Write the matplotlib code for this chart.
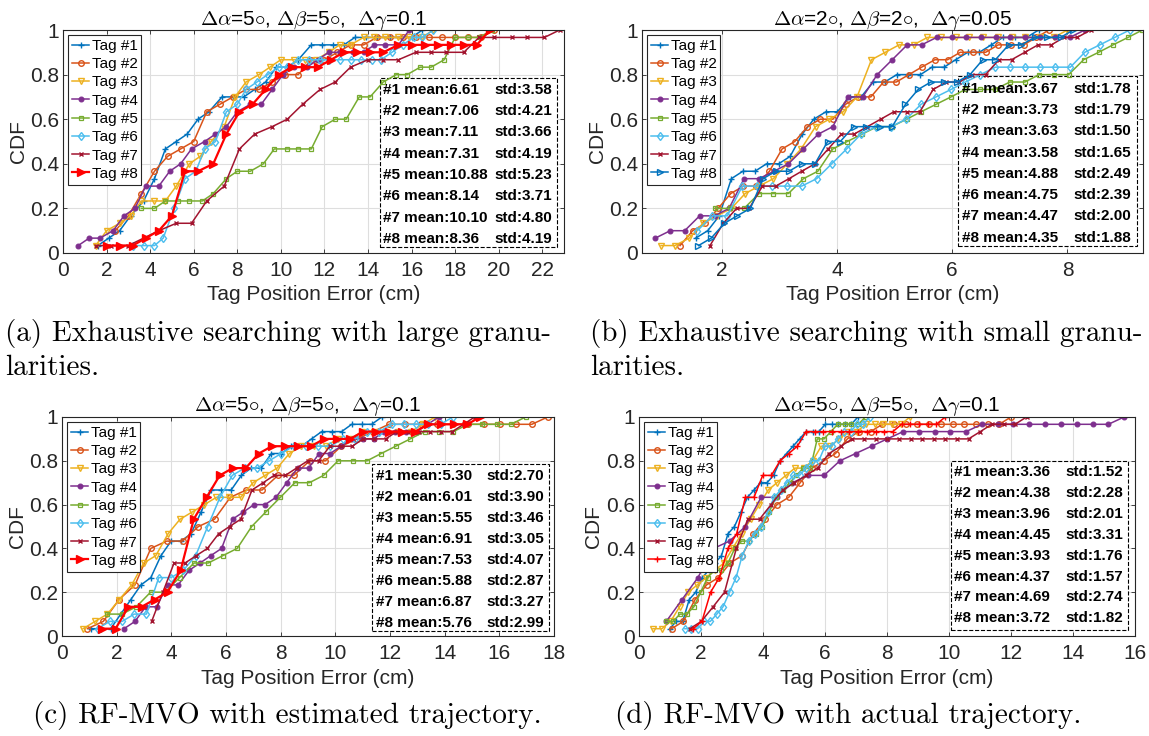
import matplotlib
matplotlib.use('Agg')
import matplotlib.pyplot as plt
from matplotlib.patches import Rectangle

plt.rcParams['font.family'] = ['Liberation Sans', 'DejaVu Sans']
plt.rcParams['mathtext.fontset'] = 'cm'

N = 30  # samples per tag, CDF step = 1/30
tags = ['Tag #1', 'Tag #2', 'Tag #3', 'Tag #4', 'Tag #5', 'Tag #6', 'Tag #7', 'Tag #8']

# ---- (a) exhaustive, large granularity ----
a_err = [
    [1.6,2.1,2.6,3.1,3.7,4.2,4.7,5.2,5.7,6.2,6.7,7.3,7.8,8.3,8.8,9.3,9.8,10.3,10.8,11.4,11.9,12.4,12.9,13.4,13.9,14.4,15.0,15.5,16.0,16.5],
    [2.4,3.0,3.6,4.2,4.8,5.4,6.0,6.6,7.2,7.8,8.4,9.0,9.6,10.2,10.8,11.4,12.0,12.6,13.2,13.8,14.4,15.0,15.6,16.2,16.8,17.4,18.0,18.6,19.2,19.8],
    [1.5,2.0,2.6,3.1,3.6,4.2,4.7,5.2,5.8,6.3,6.8,7.4,7.9,8.4,9.0,9.5,10.0,10.6,11.1,11.6,12.2,12.7,13.2,13.8,14.3,14.8,15.4,15.9,16.5,17.0],
    [0.7,1.2,1.7,2.3,2.8,3.3,3.8,4.4,4.9,5.4,5.9,6.5,7.0,7.5,8.0,8.6,9.1,9.6,10.1,10.6,11.2,11.7,12.2,12.7,13.3,13.8,14.3,14.8,15.4,15.9],
    [3.6,4.2,4.7,5.3,5.8,6.4,6.9,7.5,8.0,8.6,9.2,9.7,10.3,10.8,11.4,11.9,12.5,13.0,13.6,14.1,14.7,15.3,15.8,16.4,16.9,17.5,18.0,18.6,19.1,19.7],
    [3.2,3.7,4.2,4.6,5.1,5.6,6.1,6.5,7.0,7.5,8.0,8.4,8.9,9.4,9.9,10.3,10.8,11.3,11.8,12.2,12.7,13.2,13.7,14.2,14.6,15.1,15.6,16.1,16.5,17.0],
    [1.5,2.2,3.0,3.7,4.4,5.2,5.9,6.6,7.4,8.1,8.8,9.6,10.3,11.0,11.8,12.5,13.2,14.0,14.7,15.4,16.2,16.9,17.6,18.4,19.1,19.8,20.6,21.3,22.1,22.8],
    [2.0,2.6,3.2,3.8,4.4,5.0,5.6,6.2,6.9,7.5,8.1,8.7,9.3,9.9,10.5,11.1,11.7,12.3,12.9,13.5,14.1,14.7,15.4,16.0,16.6,17.2,17.8,18.4,19.0,19.6],
]
a_cnt = [
    [1,2,3,5,7,10,14,15,16,18,19,21,21,21,22,23,25,25,26,28,28,28,28,29,29,29,29,29,29,30],
    [3,5,8,11,13,14,15,19,20,21,22,22,23,24,24,26,26,27,28,28,29,29,29,29,29,29,29,29,29,30],
    [1,3,4,5,7,7,7,9,12,13,15,17,21,23,24,25,26,26,26,26,27,28,28,29,29,29,29,29,29,30],
    [1,2,2,3,5,6,9,9,11,12,14,15,16,17,19,20,20,22,24,25,25,26,27,27,27,27,28,28,28,30],
    [6,6,7,7,7,7,8,10,11,11,12,14,14,14,14,17,18,18,21,21,23,24,24,25,25,26,29,29,29,30],
    [1,1,1,2,6,10,11,14,15,19,20,22,23,24,25,25,26,26,26,26,26,26,26,26,26,27,28,29,29,30],
    [1,1,1,2,3,4,4,7,9,14,16,17,18,20,22,23,25,26,26,26,27,27,27,27,29,29,29,29,29,30],
    [1,1,1,2,3,5,11,11,12,16,19,20,22,24,25,25,25,26,27,27,27,27,28,28,28,28,28,28,28,30],
]
a_mean = [6.61, 7.06, 7.11, 7.31, 10.88, 8.14, 10.10, 8.36]
a_std = [3.58, 4.21, 3.66, 4.19, 5.23, 3.71, 4.80, 4.19]

# ---- (b) exhaustive, small granularity ----
b_err = [
    [1.55,1.76,1.96,2.17,2.37,2.58,2.78,2.99,3.19,3.40,3.60,3.81,4.01,4.22,4.42,4.63,4.83,5.04,5.24,5.45,5.65,5.86,6.06,6.27,6.47,6.68,6.88,7.09,7.29,7.50],
    [1.28,1.50,1.72,1.94,2.16,2.38,2.60,2.83,3.05,3.27,3.49,3.71,3.93,4.15,4.37,4.59,4.81,5.03,5.25,5.47,5.70,5.92,6.14,6.36,6.58,6.80,7.02,7.24,7.46,7.68],
    [0.95,1.19,1.44,1.68,1.92,2.17,2.41,2.65,2.90,3.14,3.38,3.63,3.87,4.11,4.35,4.60,4.84,5.08,5.33,5.57,5.81,6.06,6.30,6.54,6.79,7.03,7.27,7.52,7.76,8.00],
    [0.85,1.11,1.36,1.62,1.88,2.13,2.39,2.65,2.91,3.16,3.42,3.68,3.93,4.19,4.45,4.70,4.96,5.22,5.47,5.73,5.99,6.24,6.50,6.76,7.01,7.27,7.53,7.79,8.04,8.30],
    [1.88,2.14,2.39,2.65,2.90,3.16,3.42,3.67,3.93,4.18,4.44,4.70,4.95,5.21,5.46,5.72,5.98,6.23,6.49,6.74,7.00,7.26,7.51,7.77,8.02,8.28,8.54,8.79,9.05,9.30],
    [1.58,1.84,2.10,2.36,2.61,2.87,3.13,3.39,3.65,3.91,4.17,4.42,4.68,4.94,5.20,5.46,5.72,5.98,6.23,6.49,6.75,7.01,7.27,7.53,7.79,8.05,8.30,8.56,8.82,9.08],
    [1.80,2.03,2.26,2.48,2.71,2.94,3.17,3.39,3.62,3.85,4.08,4.30,4.53,4.76,4.99,5.21,5.44,5.67,5.90,6.12,6.35,6.58,6.81,7.03,7.26,7.49,7.72,7.94,8.17,8.40],
    [1.60,1.82,2.05,2.27,2.50,2.72,2.94,3.17,3.39,3.62,3.84,4.06,4.29,4.51,4.74,4.96,5.19,5.41,5.63,5.86,6.08,6.31,6.53,6.75,6.98,7.20,7.43,7.65,7.88,8.10],
]
b_cnt = [
    [2,3,5,10,11,11,12,12,13,16,18,19,19,21,21,23,23,24,24,24,25,25,26,27,27,28,29,29,29,30],
    [1,3,4,6,8,9,9,11,14,15,17,18,18,20,21,21,23,23,24,25,26,26,27,27,27,28,28,28,29,30],
    [1,1,2,4,5,6,8,9,10,12,14,17,18,19,21,26,27,28,28,29,29,29,29,29,29,29,29,29,29,30],
    [2,3,3,5,5,6,10,10,11,12,14,16,17,21,21,24,26,28,28,29,29,29,29,29,29,29,29,29,29,30],
    [6,6,6,8,8,8,10,11,14,15,16,17,17,18,19,20,21,22,22,22,23,23,24,24,24,26,27,28,29,30],
    [3,5,5,9,9,9,9,9,10,12,14,16,17,17,18,20,21,22,23,24,25,25,25,25,25,25,27,28,29,30],
    [1,4,6,6,9,9,10,11,12,14,16,16,17,18,19,19,19,22,23,23,24,24,26,26,27,28,28,29,29,30],
    [1,2,4,5,6,10,11,11,12,12,15,15,17,17,17,17,20,22,23,23,23,24,26,26,28,28,29,29,29,30],
]
b_mean = [3.67, 3.73, 3.63, 3.58, 4.88, 4.75, 4.47, 4.35]
b_std = [1.78, 1.79, 1.50, 1.65, 2.49, 2.39, 2.00, 1.88]

# ---- (c) RF-MVO, estimated trajectory ----
c_err = [
    [1.05,1.42,1.78,2.15,2.52,2.89,3.25,3.62,3.99,4.35,4.72,5.09,5.46,5.82,6.19,6.56,6.92,7.29,7.66,8.03,8.39,8.76,9.13,9.50,9.86,10.23,10.60,10.96,11.33,11.70],
    [0.93,1.51,2.09,2.67,3.25,3.83,4.41,4.99,5.58,6.16,6.74,7.32,7.90,8.48,9.06,9.64,10.22,10.80,11.38,11.96,12.54,13.13,13.71,14.29,14.87,15.45,16.03,16.61,17.19,17.77],
    [0.77,1.21,1.66,2.10,2.55,2.99,3.43,3.88,4.32,4.77,5.21,5.65,6.10,6.54,6.99,7.43,7.87,8.32,8.76,9.21,9.65,10.09,10.54,10.98,11.43,11.87,12.31,12.76,13.20,13.65],
    [2.27,2.67,3.06,3.46,3.86,4.25,4.65,5.05,5.44,5.84,6.24,6.64,7.03,7.43,7.83,8.22,8.62,9.02,9.41,9.81,10.21,10.60,11.00,11.40,11.79,12.19,12.59,12.98,13.38,13.78],
    [1.66,2.19,2.72,3.24,3.77,4.30,4.83,5.35,5.88,6.41,6.94,7.46,7.99,8.52,9.05,9.57,10.10,10.63,11.16,11.68,12.21,12.74,13.27,13.79,14.32,14.85,15.38,15.90,16.43,16.96],
    [1.30,1.75,2.20,2.64,3.09,3.54,3.99,4.44,4.89,5.33,5.78,6.23,6.68,7.13,7.58,8.02,8.47,8.92,9.37,9.82,10.27,10.71,11.16,11.61,12.06,12.51,12.96,13.40,13.85,14.30],
    [3.28,3.69,4.10,4.50,4.91,5.32,5.73,6.13,6.54,6.95,7.36,7.76,8.17,8.58,8.99,9.39,9.80,10.21,10.62,11.02,11.43,11.84,12.25,12.65,13.06,13.47,13.88,14.28,14.69,15.10],
    [1.48,1.96,2.43,2.91,3.39,3.86,4.34,4.82,5.29,5.77,6.25,6.72,7.20,7.68,8.15,8.63,9.11,9.59,10.06,10.54,11.02,11.49,11.97,12.44,12.92,13.40,13.87,14.35,14.83,15.30],
]
c_cnt = [
    [1,1,1,3,5,7,8,11,13,13,14,17,20,20,20,22,23,23,25,25,26,26,27,28,28,28,29,29,29,30],
    [1,2,5,7,12,13,13,15,16,19,20,20,22,22,24,24,26,27,28,29,29,29,29,29,29,29,29,29,29,30],
    [1,2,3,5,7,10,11,14,16,17,18,19,19,19,21,22,23,25,26,26,26,27,27,28,28,28,28,28,29,30],
    [1,2,4,4,7,7,9,10,11,12,16,17,18,18,19,21,23,23,25,25,26,27,27,27,28,28,28,28,29,30],
    [3,3,4,6,6,8,10,10,11,12,15,17,19,21,21,22,24,24,24,25,26,27,28,28,28,29,29,29,29,30],
    [1,2,2,3,3,8,8,9,11,15,19,22,23,23,24,25,26,26,26,26,27,27,28,28,29,29,29,29,29,30],
    [2,6,10,10,11,12,14,15,16,20,21,22,22,23,24,24,26,26,26,27,27,27,28,28,28,28,28,28,29,30],
    [1,1,4,4,5,6,9,16,19,22,23,23,25,26,26,26,26,27,27,27,28,28,28,28,28,29,29,29,29,30],
]
c_mean = [5.30, 6.01, 5.55, 6.91, 7.53, 5.88, 6.87, 5.76]
c_std = [2.70, 3.90, 3.46, 3.05, 4.07, 2.87, 3.27, 2.99]

# ---- (d) RF-MVO, actual trajectory ----
d_err = [
    [0.99,1.20,1.41,1.62,1.83,2.04,2.25,2.45,2.66,2.87,3.08,3.29,3.50,3.71,3.92,4.13,4.34,4.55,4.76,4.97,5.18,5.39,5.60,5.80,6.01,6.22,6.43,6.64,6.85,7.06],
    [1.05,1.43,1.81,2.18,2.56,2.94,3.32,3.69,4.07,4.45,4.83,5.20,5.58,5.96,6.34,6.72,7.09,7.47,7.85,8.23,8.60,8.98,9.36,9.74,10.12,10.49,10.87,11.25,11.62,12.00],
    [0.45,0.74,1.02,1.31,1.59,1.88,2.17,2.45,2.74,3.02,3.31,3.60,3.88,4.17,4.45,4.74,5.03,5.31,5.60,5.88,6.17,6.46,6.74,7.03,7.31,7.60,7.88,8.17,8.45,8.74],
    [0.88,1.39,1.90,2.41,2.92,3.43,3.94,4.44,4.95,5.46,5.97,6.48,6.99,7.50,8.01,8.52,9.03,9.54,10.04,10.55,11.06,11.57,12.08,12.59,13.10,13.61,14.12,14.63,15.14,15.65],
    [0.88,1.10,1.32,1.54,1.77,1.99,2.21,2.43,2.65,2.87,3.09,3.31,3.54,3.76,3.98,4.20,4.42,4.64,4.86,5.08,5.30,5.53,5.75,5.97,6.19,6.41,6.63,6.85,7.08,7.30],
    [1.48,1.69,1.89,2.10,2.30,2.51,2.71,2.92,3.13,3.33,3.54,3.74,3.95,4.15,4.36,4.57,4.77,4.98,5.18,5.39,5.59,5.80,6.00,6.21,6.42,6.62,6.83,7.03,7.24,7.44],
    [1.64,2.01,2.39,2.76,3.14,3.51,3.89,4.26,4.64,5.01,5.39,5.76,6.13,6.51,6.88,7.26,7.63,8.01,8.38,8.76,9.13,9.51,9.88,10.26,10.63,11.01,11.38,11.76,12.13,12.50],
    [1.75,2.03,2.31,2.59,2.87,3.15,3.43,3.71,3.99,4.27,4.55,4.83,5.11,5.39,5.67,5.95,6.23,6.51,6.79,7.07,7.35,7.63,7.91,8.19,8.47,8.75,9.03,9.31,9.59,9.88],
]
d_cnt = [
    [1,2,2,5,6,8,9,10,11,14,15,17,19,20,21,21,22,24,25,26,27,28,28,28,29,29,29,29,29,30],
    [1,2,5,7,8,10,11,14,16,18,19,21,23,24,25,27,28,28,29,29,29,29,29,29,29,29,29,29,29,30],
    [1,1,2,4,6,7,8,9,10,12,14,16,18,20,21,22,23,23,24,26,26,27,28,28,29,29,29,29,29,30],
    [2,5,8,12,13,15,19,19,21,22,22,24,25,26,27,28,28,28,28,28,29,29,29,29,29,29,29,29,29,30],
    [2,2,3,3,4,6,8,9,9,10,12,13,13,14,15,17,19,20,21,22,23,23,27,27,28,29,29,29,29,30],
    [1,1,1,2,2,3,4,6,8,11,13,14,15,17,19,20,21,22,22,23,24,24,26,26,27,28,28,29,29,30],
    [1,2,4,6,12,16,16,18,20,21,22,23,25,26,27,27,27,27,27,27,27,27,27,27,27,28,29,29,29,30],
    [1,2,6,8,12,14,19,19,22,22,24,25,26,28,28,28,28,28,28,28,28,28,28,28,29,29,29,29,29,30],
]
d_mean = [3.36, 4.38, 3.96, 4.45, 3.93, 4.37, 4.69, 3.72]
d_std = [1.52, 2.28, 2.01, 3.31, 1.76, 1.57, 2.74, 1.82]

colors = ['#0072BD', '#D95319', '#EDB120', '#7E2F8E', '#77AC30', '#4DBEEE', '#A2142F']
marks = [
    dict(marker='+', ms=5, mew=1.0),
    dict(marker='o', ms=4, mfc='none', mew=1.0),
    dict(marker='v', ms=5, mfc='none', mew=1.0),
    dict(marker='o', ms=3.5, mew=0.8),
    dict(marker='s', ms=3.5, mfc='none', mew=0.9),
    dict(marker='d', ms=4.5, mfc='none', mew=1.0),
    dict(marker='x', ms=3.5, mew=1.0),
]
tag8_red = dict(color='#FF0000', marker='>', ms=6, lw=1.6)
tag8_blue = dict(color='#0072BD', marker='>', ms=5, mfc='none', mew=1.0)
tag8_plus = dict(color='#FF0000', marker='+', ms=5, mew=1.0)

title_big = r'$\Delta\alpha$=5$\circ$, $\Delta\beta$=5$\circ$,  $\Delta\gamma$=0.1'
title_small = r'$\Delta\alpha$=2$\circ$, $\Delta\beta$=2$\circ$,  $\Delta\gamma$=0.05'

W, H = 1149, 736
fig = plt.figure(figsize=(W / 100, H / 100), dpi=100)
ink = '#262626'


def panel(box, errs, cnts, means, stds, xlim, xticks, tag8, title, sbox):
    l, t, r, b = box
    ax = fig.add_axes([l / W, 1 - b / H, (r - l) / W, (b - t) / H])
    for i in range(8):
        y = [c / N for c in cnts[i]]
        if i < 7:
            ax.plot(errs[i], y, color=colors[i], lw=1.1, label=tags[i], **marks[i])
        else:
            st = dict(lw=1.1)
            st.update(tag8)
            ax.plot(errs[i], y, label=tags[i], **st)
    ax.set_xlim(*xlim)
    ax.set_ylim(0, 1)
    ax.set_xticks(xticks)
    ax.set_yticks([0, 0.2, 0.4, 0.6, 0.8, 1])
    ax.set_yticklabels(['0', '0.2', '0.4', '0.6', '0.8', '1'])
    ax.set_axisbelow(True)
    ax.grid(True, color='#dedede', lw=0.8)
    ax.tick_params(direction='in', top=True, right=True, length=3, width=0.6,
                   labelsize=15, colors=ink, pad=3)
    ax.tick_params(axis='x', pad=6)
    for s in ax.spines.values():
        s.set_color(ink)
        s.set_linewidth(0.8)
    ax.set_xlabel('Tag Position Error (cm)', fontsize=15, color=ink)
    ax.xaxis.set_label_coords(0.5, -(42 / (b - t)))
    ax.xaxis.label.set_va('center')
    ax.set_ylabel('CDF', fontsize=15, color=ink)
    ax.yaxis.set_label_coords(-(45 / (r - l)), 0.5)
    ax.yaxis.label.set_va('center')
    ax.text(0.5, 1 + 10 / (b - t), title, transform=ax.transAxes, ha='center',
            va='center', fontsize=15, color='black')
    leg = ax.legend(loc='upper left', fontsize=11, labelspacing=0.28, handlelength=1.15,
                    handletextpad=0.15, borderpad=0.25, borderaxespad=0.33,
                    fancybox=False, framealpha=1, edgecolor=ink)
    leg.get_frame().set_linewidth(0.8)
    x0, x1, y0, y1, ty, tx1, tx2 = sbox
    ax.add_patch(Rectangle((x0, y0), x1 - x0, y1 - y0, transform=ax.transAxes,
                           facecolor='white', edgecolor='black', ls='--', lw=0.8, zorder=1))
    for i in range(8):
        yy = ty - i * 0.0955
        ax.text(tx1, yy, f'#{i + 1} mean:{means[i]:.2f}', transform=ax.transAxes,
                fontsize=11, weight='bold', va='center', zorder=5)
        ax.text(tx2, yy, f'std:{stds[i]:.2f}', transform=ax.transAxes,
                fontsize=11, weight='bold', va='center', zorder=5)
    return ax


panel((63, 30, 564, 253), a_err, a_cnt, a_mean, a_std, (0, 23), range(0, 23, 2),
      tag8_red, title_big, (0.632, 0.987, 0.026, 0.784, 0.732, 0.638, 0.862))
panel((642, 30, 1143, 253), b_err, b_cnt, b_mean, b_std, (0.62, 9.31), [2, 4, 6, 8],
      tag8_blue, title_small, (0.631, 0.988, 0.03, 0.793, 0.737, 0.639, 0.862))
panel((62, 417, 554, 636), c_err, c_cnt, c_mean, c_std, (0, 18), range(0, 19, 2),
      tag8_red, title_big, (0.631, 0.989, 0.022, 0.786, 0.73, 0.638, 0.863))
panel((639, 417, 1135, 636), d_err, d_cnt, d_mean, d_std, (0, 16), range(0, 17, 2),
      tag8_plus, title_big, (0.629, 0.985, 0.027, 0.801, 0.749, 0.636, 0.859))

cap = dict(family='cmr10', fontsize=21, va='center', ha='left')
fig.text(5 / W, 1 - 333 / H, '(a) Exhaustive searching with large granu-', **cap)
fig.text(5 / W, 1 - 368 / H, 'larities.', **cap)
fig.text(590 / W, 1 - 333 / H, '(b) Exhaustive searching with small granu-', **cap)
fig.text(590 / W, 1 - 368 / H, 'larities.', **cap)
fig.text(33 / W, 1 - 716 / H, '(c) RF-MVO with estimated trajectory.', **cap)
fig.text(615 / W, 1 - 716 / H, '(d) RF-MVO with actual trajectory.', **cap)

fig.savefig('out.png', dpi=100)
